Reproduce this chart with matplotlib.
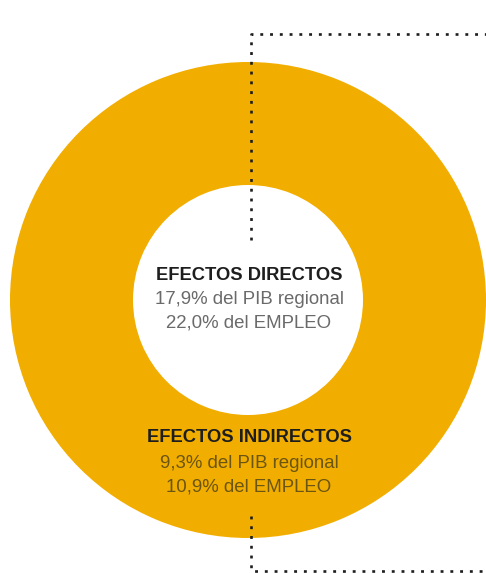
import matplotlib
matplotlib.use("Agg")
import matplotlib.pyplot as plt

# anillo: un único bloque (efectos totales)
ring_values = [100]
ring_color = "#F2AE00"

titles = ["EFECTOS DIRECTOS", "EFECTOS INDIRECTOS"]
pib_lines = ["17,9% del PIB regional", "9,3% del PIB regional"]
emp_lines = ["22,0% del EMPLEO", "10,9% del EMPLEO"]
sub_colors = ["#6a6a6a", "#6b5512"]

W, H, DPI = 486, 573, 100
CX, CY, R_OUT, R_IN = 248, 300, 238, 115

fig = plt.figure(figsize=(W / DPI, H / DPI), dpi=DPI)
ax = fig.add_axes([0, 0, 1, 1])

ax.pie(ring_values, colors=[ring_color], radius=R_OUT, center=(CX, CY),
       startangle=90, counterclock=False,
       wedgeprops=dict(width=R_OUT - R_IN, linewidth=0))

ax.set_xlim(0, W)
ax.set_ylim(H, 0)
ax.set_aspect("equal")
ax.axis("off")

# líneas punteadas (guías)
dot = dict(color="#1e1e1e", lw=1.9, dashes=(1.1, 2.6), solid_capstyle="butt",
           dash_capstyle="butt")
ax.plot([250.5, 250.5, 486], [240, 34, 34], **dot)
ax.plot([250.5, 250.5, 486], [516, 571, 571], **dot)

fam = ["Liberation Sans", "DejaVu Sans"]
ys = [(275, 300, 323), (438, 463, 487)]
for t, p, e, c, (y0, y1, y2) in zip(titles, pib_lines, emp_lines, sub_colors, ys):
    ax.text(CX + 1, y0, t, ha="center", va="center", fontsize=13.2,
            fontweight="bold", color="#1e1e1e", family=fam)
    ax.text(CX + 1, y1, p, ha="center", va="center", fontsize=13.4,
            color=c, family=fam)
    ax.text(CX + 1, y2, e, ha="center", va="center", fontsize=13.4,
            color=c, family=fam)

fig.savefig("out.png", dpi=DPI)
plt.close(fig)
